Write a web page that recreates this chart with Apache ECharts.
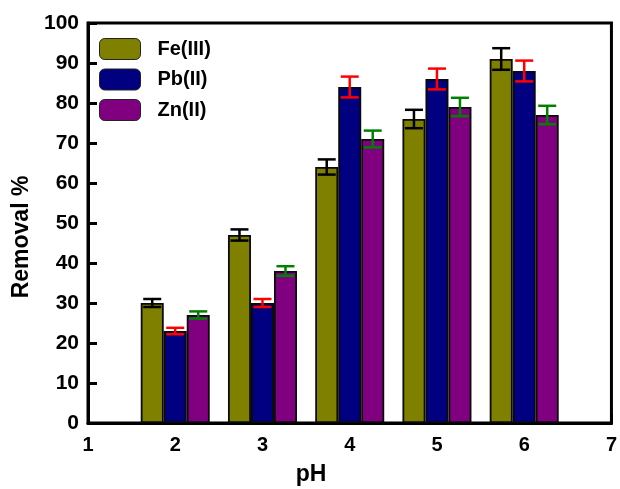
<!DOCTYPE html>
<html>
<head>
<meta charset="utf-8">
<script src="https://cdn.jsdelivr.net/npm/echarts@6/dist/echarts.min.js"></script>
<style>
  html, body { margin: 0; padding: 0; background: #fff; }
  #chart { width: 620px; height: 489px; }
</style>
</head>
<body>
<div id="chart"></div>
<script>
// pH values of each group
const pH = [2, 3, 4, 5, 6];

// Removal (%) and standard deviation per metal ion
const feRemoval = [30, 47, 64, 76, 91];
const feError   = [1.0, 1.4, 1.9, 2.3, 2.7];
const pbRemoval = [23, 30, 84, 86, 88];
const pbError   = [0.8, 1.0, 2.6, 2.6, 2.6];
const znRemoval = [27, 38, 71, 79, 77];
const znError   = [0.9, 1.2, 2.1, 2.3, 2.3];

const seriesNames = ['Fe(III)', 'Pb(II)', 'Zn(II)'];
const barColors = ['#808000', '#000080', '#800080'];
const errColors = ['#000000', '#ff0000', '#008000'];

const FONT = '"Liberation Sans", Arial, sans-serif';
const BAR_W = 23;
const offsets = [-BAR_W, 0, BAR_W];

const values = [feRemoval, pbRemoval, znRemoval];
const errors = [feError, pbError, znError];

const chart = echarts.init(document.getElementById('chart'));

const barSeries = values.map((vals, i) => ({
  name: seriesNames[i],
  type: 'bar',
  barWidth: BAR_W,
  barGap: '0%',
  data: pH.map((x, k) => [x, vals[k]]),
  itemStyle: { color: barColors[i], borderColor: '#0a0a0a', borderWidth: 1.8 },
  z: 2
}));

const errSeries = values.map((vals, i) => ({
  name: seriesNames[i] + ' error',
  type: 'custom',
  z: 5,
  data: pH.map((x, k) => [x, vals[k], errors[i][k]]),
  renderItem: function (params, api) {
    const x = api.value(0), y = api.value(1), e = api.value(2);
    const hi = api.coord([x, y + e]);
    const lo = api.coord([x, y - e]);
    const cx = hi[0] + offsets[i];
    const half = 9;
    const style = { stroke: errColors[i], lineWidth: 2.5 };
    return {
      type: 'group',
      children: [
        { type: 'line', shape: { x1: cx, y1: hi[1], x2: cx, y2: lo[1] }, style: style },
        { type: 'line', shape: { x1: cx - half, y1: hi[1], x2: cx + half, y2: hi[1] }, style: style },
        { type: 'line', shape: { x1: cx - half, y1: lo[1], x2: cx + half, y2: lo[1] }, style: style }
      ]
    };
  }
}));

chart.setOption({
  animation: false,
  backgroundColor: '#ffffff',
  grid: {
    left: 88, right: 8, top: 23, bottom: 66,
    show: true, borderColor: '#000', borderWidth: 3
  },
  legend: {
    data: seriesNames,
    orient: 'vertical',
    left: 99, top: 38,
    padding: 0,
    itemWidth: 41, itemHeight: 21, itemGap: 8.5,
    textStyle: { fontFamily: FONT, fontWeight: 'bold', fontSize: 20, lineHeight: 21, color: '#000', padding: [0, 0, 0, 12] },
    itemStyle: { borderColor: '#222', borderWidth: 1 }
  },
  xAxis: {
    type: 'value',
    min: 1, max: 7, interval: 1,
    axisLine: { show: true, lineStyle: { color: '#000', width: 3 } },
    axisTick: { show: true, inside: true, length: 9, lineStyle: { color: '#000', width: 3 } },
    axisLabel: { fontFamily: FONT, fontWeight: 'bold', fontSize: 20, color: '#000', margin: 12 },
    splitLine: { show: false }
  },
  yAxis: {
    type: 'value',
    min: 0, max: 100, interval: 10,
    axisLine: { show: true, lineStyle: { color: '#000', width: 3 } },
    axisTick: { show: true, inside: true, length: 9, lineStyle: { color: '#000', width: 3 } },
    axisLabel: { fontFamily: FONT, fontWeight: 'bold', fontSize: 21, color: '#000', margin: 9 },
    splitLine: { show: false }
  },
  graphic: [
    {
      type: 'text', x: 22, y: 237, rotation: Math.PI / 2,
      style: { text: 'Removal %', font: 'bold 23px ' + FONT, fill: '#000', align: 'center', verticalAlign: 'middle' }
    },
    {
      type: 'text', x: 311, y: 475,
      style: { text: 'pH', font: 'bold 23px ' + FONT, fill: '#000', align: 'center', verticalAlign: 'middle' }
    }
  ],
  series: barSeries.concat(errSeries)
});
</script>
</body>
</html>
